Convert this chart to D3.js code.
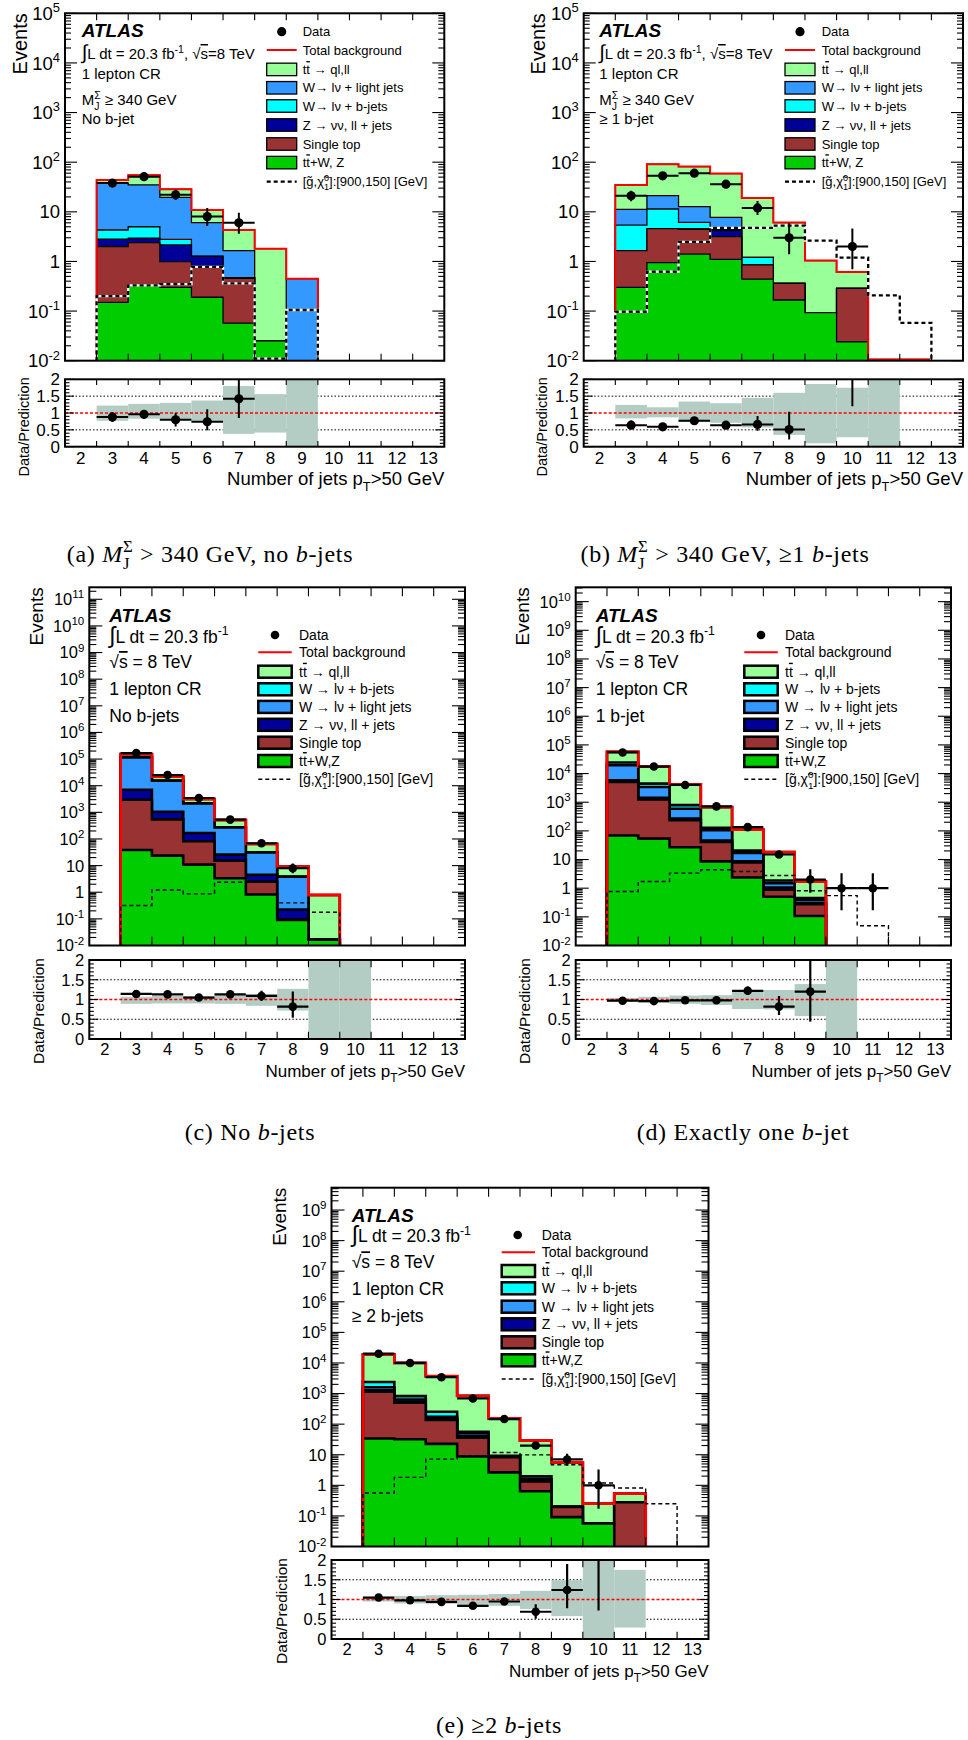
<!DOCTYPE html>
<html>
<head>
<meta charset="utf-8">
<script src="https://cdn.jsdelivr.net/npm/d3@7"></script>
<style>
  body { margin: 0; background: #fff; }
  svg { display: block; background: #fff; }
</style>
</head>
<body>
<svg id="fig" width="968" height="1740"></svg>
<script>
// ---------------------------------------------------------------
// Jet multiplicity bins (x = number of jets with pT > 50 GeV)
// ---------------------------------------------------------------
const nJets = [2, 3, 4, 5, 6, 7, 8, 9, 10, 11, 12, 13];
const jetTickLabels = ["2", "3", "4", "5", "6", "7", "8", "9", "10", "11", "12", "13"];
const ratioTickValues = [0, 0.5, 1, 1.5, 2];
const ratioTickLabels = ["0", "0.5", "1", "1.5", "2"];

// ---------------- (a) MJ >= 340 GeV, no b-jet ----------------
const aTtbar   = [0, 6.3, 19.7, 8.9, 4.84, 2.65, 1.785, 0, 0, 0, 0, 0];
const aWLight  = [0, 33.3, 29.8, 16.8, 4.79, 1.18, 0, 0.45, 0, 0, 0, 0];
const aWB      = [0, 1.5, 2.07, 0.64, 0.02, 0, 0, 0, 0, 0, 0, 0];
const aZjets   = [0, 0.8, 0.54, 1.16, 0.47, 0.013, 0, 0, 0, 0, 0, 0];
const aStop    = [0, 1.85, 2.06, 0.69, 0.60, 0.40, 0, 0, 0, 0, 0, 0];
const aTtV     = [0, 0.15, 0.33, 0.30, 0.19, 0.057, 0.025, 0, 0, 0, 0, 0];
const aData    = [0, 38, 51, 22, 8, 6, 0, 0, 0, 0, 0, 0];
const aDataUp  = [0, 7.2, 8.2, 5.7, 3.9, 3.6, 0, 0, 0, 0, 0, 0];
const aDataDn  = [0, 6.1, 7.1, 4.7, 2.8, 2.4, 0, 0, 0, 0, 0, 0];
const aSignal  = [0, 0.2, 0.33, 0.35, 0.78, 0.36, 0.011, 0.105, 0, 0, 0, 0];
const aRatio   = [null, 0.88, 0.96, 0.80, 0.74, 1.42, null, null, null, null, null, null];
const aRatioUp = [0, 0.15, 0.13, 0.20, 0.37, 0.90, 0, 0, 0, 0, 0, 0];
const aRatioDn = [0, 0.15, 0.12, 0.20, 0.25, 0.57, 0, 0, 0, 0, 0, 0];
const aBandLo  = [null, 0.77, 0.83, 0.79, 0.74, 0.38, 0.42, 0, null, null, null, null];
const aBandHi  = [null, 1.22, 1.27, 1.30, 1.37, 1.80, 1.56, 2, null, null, null, null];

// ---------------- (b) MJ >= 340 GeV, >= 1 b-jet ----------------
const bTtbar   = [0, 23.6, 69.6, 68.8, 51.1, 17.8, 5.7, 0.95, 0.323, 0.0106, 0.0106, 0];
const bWLight  = [0, 5.8, 9.8, 6.55, 3.36, 0, 0, 0, 0, 0, 0, 0];
const bWB      = [0, 3.75, 6.8, 1.55, 0.22, 0.36, 0, 0, 0, 0, 0, 0];
const bZjets   = [0, 0, 0, 0.16, 1.02, 0, 0, 0, 0, 0, 0, 0];
const bStop    = [0, 1.35, 3.65, 3.03, 2.06, 0.41, 0.195, 0, 0.263, 0, 0, 0];
const bTtV     = [0, 0.30, 0.95, 1.41, 1.10, 0.44, 0.167, 0.093, 0.024, 0, 0, 0];
const bData    = [0, 21, 53, 60, 36, 12, 3, 0, 2, 0, 0, 0];
const bDataUp  = [0, 5.6, 8.3, 8.8, 7.0, 4.5, 2.9, 0, 2.6, 0, 0, 0];
const bDataDn  = [0, 4.6, 7.3, 7.7, 6.0, 3.4, 1.6, 0, 1.3, 0, 0, 0];
const bSignal  = [0, 0.097, 0.62, 2.47, 4.73, 4.73, 5.27, 2.63, 1.19, 0.207, 0.058, 0];
const bRatio   = [null, 0.64, 0.59, 0.77, 0.64, 0.66, 0.51, null, 3.3, null, null, null];
const bRatioUp = [0, 0.14, 0.10, 0.10, 0.12, 0.25, 0.53, 0, 4.3, 0, 0, 0];
const bRatioDn = [0, 0.12, 0.09, 0.10, 0.11, 0.19, 0.30, 0, 2.1, 0, 0, 0];
const bBandLo  = [null, 0.84, 0.87, 0.74, 0.71, 0.57, 0.35, 0.10, 0.28, 0, null, null];
const bBandHi  = [null, 1.24, 1.17, 1.34, 1.29, 1.45, 1.60, 1.86, 1.75, 2, null, null];

// ---------------- (c) no b-jets ----------------
const cTtbar   = [0, 36600, 6050, 985, 242, 33.3, 5.3, 0.77, 0, 0, 0, 0];
const cWB      = [0, 2000, 300, 27, 4, 0.45, 0.05, 0, 0, 0, 0, 0];
const cWLight  = [0, 108400, 14340, 1980, 244, 26.7, 3.6, 0, 0, 0, 0, 0];
const cZjets   = [0, 4095, 513, 86.3, 10.5, 1.96, 0.132, 0, 0, 0, 0, 0];
const cStop    = [0, 2946, 522, 70.8, 12.05, 1.69, 0, 0, 0, 0, 0, 0];
const cTtV     = [0, 38.7, 23.7, 10.9, 3.35, 0.82, 0.092, 0.0164, 0, 0, 0, 0];
const cData    = [0, 168000, 25100, 3450, 531, 69, 8, 0, 0, 0, 0, 0];
const cDataUp  = [0, 410, 160, 60, 24, 9.3, 3.9, 0, 0, 0, 0, 0];
const cDataDn  = [0, 410, 158, 58, 23, 8.3, 2.8, 0, 0, 0, 0, 0];
const cSignal  = [0, 0.316, 1.22, 0.866, 2.37, 2.5, 0.398, 0.178, 0, 0, 0, 0];
const cRatio   = [null, 1.14, 1.13, 1.05, 1.13, 1.09, 0.82, null, null, null, null, null];
const cRatioUp = [0, 0.005, 0.01, 0.02, 0.05, 0.13, 0.38, 0, 0, 0, 0, 0];
const cRatioDn = [0, 0.005, 0.01, 0.02, 0.05, 0.13, 0.28, 0, 0, 0, 0, 0];
const cBandLo  = [null, 0.89, 0.90, 0.90, 0.89, 0.84, 0.72, 0, 0, null, null, null];
const cBandHi  = [null, 1.07, 1.09, 1.09, 1.14, 1.14, 1.27, 2, 2, null, null, null];

// ---------------- (d) exactly one b-jet ----------------
const dTtbar   = [0, 33200, 13140, 3430, 550, 90.6, 16.4, 1.26, 0, 0, 0, 0];
const dWB      = [0, 4700, 1056, 204, 21.5, 3.5, 0.36, 0.06, 0, 0, 0, 0];
const dWLight  = [0, 13760, 1966, 321, 59.7, 8.3, 0.45, 0.09, 0, 0, 0, 0];
const dZjets   = [0, 740, 181, 33, 4.7, 0.65, 0.176, 0.025, 0, 0, 0, 0];
const dStop    = [0, 5030, 1203, 210, 32.5, 5.58, 0.377, 0.168, 0, 0, 0, 0];
const dTtV     = [0, 68.6, 53.8, 26.7, 8.6, 2.37, 0.5, 0.107, 0, 0, 0, 0];
const dData    = [0, 54600, 17600, 4000, 714, 135, 15, 2, 1, 1, 0, 0];
const dDataUp  = [0, 234, 133, 64, 27.7, 12.6, 4.9, 2.6, 2.3, 2.3, 0, 0];
const dDataDn  = [0, 234, 132, 63, 26.7, 11.6, 3.8, 1.3, 0.83, 0.83, 0, 0];
const dSignal  = [0, 0.764, 1.71, 3.36, 4.4, 3.84, 2.78, 0.81, 0.55, 0.049, 0, 0];
const dRatio   = [null, 0.97, 0.96, 0.98, 0.98, 1.22, 0.82, 1.20, null, null, null, null];
const dRatioUp = [0, 0.005, 0.01, 0.02, 0.04, 0.11, 0.27, 0.85, 0, 0, 0, 0];
const dRatioDn = [0, 0.005, 0.01, 0.02, 0.04, 0.10, 0.21, 0.76, 0, 0, 0, 0];
const dBandLo  = [null, 0.94, 0.92, 0.89, 0.86, 0.76, 0.75, 0.58, 0, null, null, null];
const dBandHi  = [null, 1.04, 1.07, 1.10, 1.11, 1.24, 1.24, 1.39, 2, null, null, null];

// ---------------- (e) >= 2 b-jets ----------------
const eTtbar   = [0, 16700, 9176, 3425, 789, 145.8, 27.1, 5.4, 0.196, 0.256, 0, 0];
const eWB      = [0, 800, 182, 80, 5.7, 0.3, 0.36, 0, 0, 0, 0, 0];
const eWLight  = [0, 310, 89, 30, 9.3, 0.3, 0.15, 0, 0, 0, 0, 0];
const eZjets   = [0, 150, 53, 8, 4.6, 0.25, 0.1, 0, 0, 0, 0, 0];
const eStop    = [0, 1106, 468, 114, 27.6, 5.7, 0.71, 0.106, 0, 0.28, 0, 0];
const eTtV     = [0, 33.8, 32.1, 22.6, 8.77, 2.65, 0.64, 0.091, 0.0567, 0, 0, 0];
const eData    = [0, 20100, 10000, 3420, 692, 147, 20, 7, 1, 0, 0, 0];
const eDataUp  = [0, 142, 100, 59, 27, 13.1, 5.5, 3.8, 2.3, 0, 0, 0];
const eDataDn  = [0, 142, 100, 58, 26, 12.1, 4.4, 2.6, 0.83, 0, 0, 0];
const eSignal  = [0, 0.56, 1.82, 7.18, 9.0, 11.8, 9.9, 4.7, 1.19, 0.82, 0.25, 0];
const eRatio   = [null, 1.05, 0.98, 0.94, 0.84, 0.95, 0.69, 1.24, 3.95, null, null, null];
const eRatioUp = [0, 0.01, 0.01, 0.02, 0.04, 0.08, 0.19, 0.66, 3.0, 0, 0, 0];
const eRatioDn = [0, 0.01, 0.01, 0.02, 0.04, 0.08, 0.18, 0.46, 3.23, 0, 0, 0];
const eBandLo  = [null, 0.95, 0.90, 0.89, 0.86, 0.84, 0.76, 0.58, 0, 0.29, null, null];
const eBandHi  = [null, 1.07, 1.09, 1.11, 1.12, 1.14, 1.22, 1.49, 2, 1.75, null, null];

// ---------------------------------------------------------------
const FONT = '"Liberation Sans", Arial, Helvetica, "DejaVu Sans", sans-serif';
const SERIF = '"Liberation Serif", "Times New Roman", "DejaVu Serif", serif';
const COL = {
  ttbar: "#99ff99", wlight: "#3399ff", wb: "#00ffff", z: "#000099",
  stop: "#993333", ttv: "#00cc00", band: "#b3cdc5", total: "#ff0000"
};

const svg = d3.select("#fig");

// Text with sub/superscripts and stacked indices, built from tspans.
function rich(parent, x, y, parts, size, opts = {}) {
  const t = parent.append("text").attr("x", x).attr("y", y)
    .attr("font-size", size).attr("font-family", opts.family || FONT).attr("fill", "#000");
  if (opts.anchor) t.attr("text-anchor", opts.anchor);
  if (opts.weight) t.attr("font-weight", opts.weight);
  if (opts.style) t.attr("font-style", opts.style);
  if (opts.spacing) t.attr("letter-spacing", opts.spacing);
  if (opts.transform) t.attr("transform", opts.transform);
  const supOff = -0.42 * size, subOff = 0.3 * size, small = 0.7 * size;
  let cur = 0, pendDx = 0;
  parts.forEach(p0 => {
    const p = typeof p0 === "string" ? { t: p0 } : p0;
    if (p.stack) {
      const s1 = t.append("tspan").attr("font-size", small).attr("dy", supOff - cur).text(p.stack[0]);
      if (pendDx) s1.attr("dx", pendDx);
      const w1 = s1.node().getComputedTextLength();
      const s2 = t.append("tspan").attr("font-size", small).attr("dx", -w1)
        .attr("dy", subOff - supOff).text(p.stack[1]);
      const w2 = s2.node().getComputedTextLength();
      cur = subOff;
      pendDx = Math.max(0, w1 - w2);
      return;
    }
    const off = p.sup ? supOff : (p.sub ? subOff : 0);
    const s = t.append("tspan").attr("dy", off - cur).text(p.t);
    if (pendDx) s.attr("dx", pendDx);
    pendDx = 0;
    cur = off;
    if (p.sup || p.sub) s.attr("font-size", small);
    if (p.size) s.attr("font-size", p.size);
    if (p.italic) s.attr("font-style", "italic");
    if (p.over) s.style("text-decoration", "overline");
  });
  return t;
}

// Legend label pieces
const tbar = { t: "t", over: true };
const LAB = {
  ttbar: ["t", tbar, " \u2192 ql,ll"],
  wlightA: ["W\u2192 l\u03bd  + light jets"],
  wbA: ["W\u2192 l\u03bd  + b-jets"],
  wlight: ["W \u2192 l\u03bd + light jets"],
  wb: ["W \u2192 l\u03bd + b-jets"],
  z: ["Z \u2192 \u03bd\u03bd, ll + jets"],
  stop: ["Single top"],
  ttvA: ["t", tbar, "+W, Z"],
  ttv: ["t", tbar, "+W,Z"],
  signal: ["[g\u0303,\u03c7\u0303", { stack: ["0", "1"] }, "]:[900,150] [GeV]"]
};

const STYLE_TOP = {
  stackW: 1.3, redW: 2, sigW: 2.3, sigDash: "4,3", sigWhite: true, markerR: 4.6, errW: 2,
  frameW: 2, majY: 12, minY: 6, xTick: 7, rMaj: 9, rMin: 4.5,
  yLab: 18.5, rLab: 17, xTitle: 18.5, evSize: 20, dpSize: 14.5,
  legSize: 13, txtSize: 15, atlasSize: 19, boxH: 12.5, legBoxW: 1.3
};
const STYLE_LOW = {
  stackW: 2.6, redW: 2.8, sigW: 1.4, sigDash: "4,3", sigWhite: false, markerR: 4.3, errW: 2.2,
  frameW: 2, majY: 13, minY: 7, xTick: 9, rMaj: 9, rMin: 4.5,
  yLab: 16.5, rLab: 16.5, xTitle: 17, evSize: 19, dpSize: 15.5,
  legSize: 14, txtSize: 17.5, atlasSize: 19, boxH: 12, legBoxW: 2.5
};

function drawPanel(P) {
  const S = P.style;
  const g = svg.append("g");
  const x = d3.scaleLinear().domain([1.5, 13.5]).range([P.x0, P.x1]);
  const y = d3.scaleLog().domain([0.01, P.yTop]).range([P.y1, P.y0]);
  const yv = v => (v > 0.01 ? y(v) : P.y1 + 4);
  const yr = d3.scaleLinear().domain([0, 2]).range([P.r1, P.r0]);

  const defs = g.append("defs");
  defs.append("clipPath").attr("id", "clipMain" + P.id).append("rect")
    .attr("x", P.x0).attr("y", P.y0).attr("width", P.x1 - P.x0).attr("height", P.y1 - P.y0);
  defs.append("clipPath").attr("id", "clipRatio" + P.id).append("rect")
    .attr("x", P.x0).attr("y", P.r0).attr("width", P.x1 - P.x0).attr("height", P.r1 - P.r0);

  // ---- main pad: stacked backgrounds ----
  const main = g.append("g").attr("clip-path", `url(#clipMain${P.id})`);
  const line = d3.line().x(d => x(d[0])).y(d => yv(d[1]));
  const stepPts = vals => {
    const pts = [[1.5, 0]];
    vals.forEach((v, i) => { pts.push([nJets[i] - 0.5, v], [nJets[i] + 0.5, v]); });
    pts.push([13.5, 0]);
    return pts;
  };
  const cum = [];
  P.stack.forEach((c, k) => cum.push(c.values.map((v, i) => v + (k ? cum[k - 1][i] : 0))));
  for (let k = cum.length - 1; k >= 0; k--) {
    const d = line(stepPts(cum[k]));
    main.append("path").attr("d", d + "Z").attr("fill", P.stack[k].color).attr("stroke", "none");
    main.append("path").attr("d", d).attr("fill", "none")
      .attr("stroke", "#000").attr("stroke-width", S.stackW);
  }
  // total background
  main.append("path").attr("d", line(stepPts(cum[cum.length - 1])))
    .attr("fill", "none").attr("stroke", COL.total).attr("stroke-width", S.redW);
  // signal
  const sigD = line(stepPts(P.signal));
  if (S.sigWhite) {
    main.append("path").attr("d", sigD).attr("fill", "none")
      .attr("stroke", "#fff").attr("stroke-width", S.sigW);
  }
  main.append("path").attr("d", sigD).attr("fill", "none")
    .attr("stroke", "#000").attr("stroke-width", S.sigW).attr("stroke-dasharray", S.sigDash);
  // data
  P.data.forEach((v, i) => {
    if (!(v > 0)) return;
    const n = nJets[i];
    main.append("line").attr("x1", x(n - 0.5)).attr("x2", x(n + 0.5))
      .attr("y1", yv(v)).attr("y2", yv(v)).attr("stroke", "#000").attr("stroke-width", S.errW);
    main.append("line").attr("x1", x(n)).attr("x2", x(n))
      .attr("y1", yv(v + P.dataUp[i])).attr("y2", yv(v - P.dataDn[i]))
      .attr("stroke", "#000").attr("stroke-width", S.errW);
    main.append("circle").attr("cx", x(n)).attr("cy", yv(v)).attr("r", S.markerR).attr("fill", "#000");
  });

  // ---- ratio pad ----
  const rp = g.append("g").attr("clip-path", `url(#clipRatio${P.id})`);
  [0.5, 1.5].forEach(v => {
    rp.append("line").attr("x1", P.x0).attr("x2", P.x1).attr("y1", yr(v)).attr("y2", yr(v))
      .attr("stroke", "#000").attr("stroke-width", 1).attr("stroke-dasharray", "1.5,2");
  });
  P.bandLo.forEach((lo, i) => {
    if (lo === null) return;
    const n = nJets[i];
    rp.append("rect").attr("x", x(n - 0.5)).attr("width", x(n + 0.5) - x(n - 0.5))
      .attr("y", yr(P.bandHi[i])).attr("height", yr(lo) - yr(P.bandHi[i])).attr("fill", COL.band);
  });
  rp.append("line").attr("x1", P.x0).attr("x2", P.x1).attr("y1", yr(1)).attr("y2", yr(1))
    .attr("stroke", COL.total).attr("stroke-width", 1.4).attr("stroke-dasharray", "3,2");
  P.ratio.forEach((r, i) => {
    if (r === null) return;
    const n = nJets[i];
    rp.append("line").attr("x1", x(n - 0.5)).attr("x2", x(n + 0.5)).attr("y1", yr(r)).attr("y2", yr(r))
      .attr("stroke", "#000").attr("stroke-width", S.errW);
    rp.append("line").attr("x1", x(n)).attr("x2", x(n))
      .attr("y1", yr(r + P.ratioUp[i])).attr("y2", yr(r - P.ratioDn[i]))
      .attr("stroke", "#000").attr("stroke-width", S.errW);
    rp.append("circle").attr("cx", x(n)).attr("cy", yr(r)).attr("r", S.markerR).attr("fill", "#000");
  });

  // ---- axes, ticks and frames ----
  const ax = g.append("g").attr("stroke", "#000").attr("stroke-width", 1.1);
  const tick = (x1, y1, x2, y2) => ax.append("line").attr("x1", x1).attr("y1", y1).attr("x2", x2).attr("y2", y2);
  const topExp = Math.floor(Math.log10(P.yTop));
  d3.range(-2, topExp + 1).forEach(k => {
    const yy = y(Math.pow(10, k));
    tick(P.x0, yy, P.x0 + S.majY, yy);
    tick(P.x1, yy, P.x1 - S.majY, yy);
    d3.range(2, 10).forEach(m => {
      const v = m * Math.pow(10, k);
      if (v >= P.yTop) return;
      const ym = y(v);
      tick(P.x0, ym, P.x0 + S.minY, ym);
      tick(P.x1, ym, P.x1 - S.minY, ym);
    });
  });
  nJets.slice(0, 11).forEach(n => {
    const xx = x(n + 0.5);
    tick(xx, P.y1, xx, P.y1 - S.xTick);
    tick(xx, P.y0, xx, P.y0 + S.xTick);
    tick(xx, P.r1, xx, P.r1 - S.xTick * 0.8);
    tick(xx, P.r0, xx, P.r0 + S.xTick * 0.8);
  });
  d3.range(0, 21).forEach(j => {
    const v = j / 10;
    const len = (j % 5 === 0) ? S.rMaj : S.rMin;
    tick(P.x0, yr(v), P.x0 + len, yr(v));
    tick(P.x1, yr(v), P.x1 - len, yr(v));
  });
  g.append("rect").attr("x", P.x0).attr("y", P.y0).attr("width", P.x1 - P.x0).attr("height", P.y1 - P.y0)
    .attr("fill", "none").attr("stroke", "#000").attr("stroke-width", S.frameW);
  g.append("rect").attr("x", P.x0).attr("y", P.r0).attr("width", P.x1 - P.x0).attr("height", P.r1 - P.r0)
    .attr("fill", "none").attr("stroke", "#000").attr("stroke-width", S.frameW);

  // ---- tick labels ----
  d3.range(-2, topExp + 1).forEach(k => {
    const yy = y(Math.pow(10, k)) + 0.36 * S.yLab;
    const parts = k === 0 ? ["1"] : k === 1 ? ["10"] : ["10", { t: String(k), sup: true }];
    rich(g, P.x0 - 5, yy, parts, S.yLab, { anchor: "end" });
  });
  ratioTickValues.forEach((v, j) => {
    rich(g, P.x0 - 5, yr(v) + 0.36 * S.rLab, [ratioTickLabels[j]], S.rLab, { anchor: "end" });
  });
  nJets.forEach((n, j) => {
    rich(g, x(n), P.labY, [jetTickLabels[j]], S.rLab, { anchor: "middle" });
  });

  // ---- axis titles ----
  rich(g, 0, 0, ["Events"], S.evSize, { anchor: "end", transform: `translate(${P.evX},${P.y0}) rotate(-90)` });
  rich(g, 0, 0, ["Data/Prediction"], S.dpSize, { anchor: "end", transform: `translate(${P.dpX},${P.r0 - 2}) rotate(-90)` });
  rich(g, P.x1, P.xTitleY, ["Number of jets p", { t: "T", sub: true }, ">50 GeV"], S.xTitle, { anchor: "end" });

  // ---- labels inside the main pad ----
  rich(g, P.tx, P.textY[0], ["ATLAS"], S.atlasSize, { weight: "bold", style: "italic" });
  P.textLines.forEach((parts, j) => rich(g, P.tx, P.textY[j + 1], parts, S.txtSize));

  // ---- legend ----
  const L = P.legend;
  const lg = g.append("g");
  lg.append("circle").attr("cx", L.mx).attr("cy", L.ys[0]).attr("r", S.markerR).attr("fill", "#000");
  rich(lg, L.tx, L.ys[0] + 0.36 * S.legSize, ["Data"], S.legSize);
  lg.append("line").attr("x1", L.bx0).attr("x2", L.bx1).attr("y1", L.ys[1]).attr("y2", L.ys[1])
    .attr("stroke", COL.total).attr("stroke-width", 2);
  rich(lg, L.tx, L.ys[1] + 0.36 * S.legSize, ["Total background"], S.legSize);
  const entries = P.stack.slice().reverse();
  entries.forEach((c, j) => {
    const yy = L.ys[j + 2];
    lg.append("rect").attr("x", L.bx0).attr("y", yy - S.boxH / 2).attr("width", L.bx1 - L.bx0)
      .attr("height", S.boxH).attr("fill", c.color).attr("stroke", "#000").attr("stroke-width", S.legBoxW);
    rich(lg, L.tx, yy + 0.36 * S.legSize, c.label, S.legSize);
  });
  const ys = L.ys[8];
  lg.append("line").attr("x1", L.bx0).attr("x2", L.bx1).attr("y1", ys).attr("y2", ys)
    .attr("stroke", "#000").attr("stroke-width", S.sigWhite ? 2.3 : 1.4).attr("stroke-dasharray", "4,3");
  rich(lg, L.tx, ys + 0.36 * S.legSize, LAB.signal, S.legSize);

  // ---- caption ----
  rich(g, P.capX, P.capY, P.caption, 24, { anchor: "middle", family: SERIF, spacing: 0.7 });
}

const lumiLong = [{ t: "\u222b", size: 20 }, "L dt = 20.3 fb", { t: "-1", sup: true }, ", \u221a", { t: "s", over: true }, "=8 TeV"];
const lumiShort = [{ t: "\u222b", size: 23 }, "L dt = 20.3 fb", { t: "-1", sup: true }];
const sqrtS = ["\u221a", { t: "s", over: true }, " = 8 TeV"];
const mjCut = ["M", { stack: ["\u03a3", "J"] }, " \u2265 340 GeV"];

const stackTop = (tt, wl, wb, z, st, tv) => [
  { values: tv, color: COL.ttv, label: LAB.ttvA },
  { values: st, color: COL.stop, label: LAB.stop },
  { values: z, color: COL.z, label: LAB.z },
  { values: wb, color: COL.wb, label: LAB.wbA },
  { values: wl, color: COL.wlight, label: LAB.wlightA },
  { values: tt, color: COL.ttbar, label: LAB.ttbar }
];
const stackLow = (tt, wb, wl, z, st, tv) => [
  { values: tv, color: COL.ttv, label: LAB.ttv },
  { values: st, color: COL.stop, label: LAB.stop },
  { values: z, color: COL.z, label: LAB.z },
  { values: wl, color: COL.wlight, label: LAB.wlight },
  { values: wb, color: COL.wb, label: LAB.wb },
  { values: tt, color: COL.ttbar, label: LAB.ttbar }
];

const legTopYs = [31.7, 50, 69.4, 87.8, 106, 125, 144, 162.6, 181.6];
const legLowYs = [635, 652.3, 671.7, 689.3, 706.9, 724.8, 742.7, 761, 779.3];

drawPanel({
  id: "a", style: STYLE_TOP, x0: 65, x1: 444.3, y0: 13.3, y1: 360.7, yTop: 1e5, r0: 379.3, r1: 446.7,
  labY: 464, xTitleY: 485, evX: 27, dpX: 29,
  stack: stackTop(aTtbar, aWLight, aWB, aZjets, aStop, aTtV),
  data: aData, dataUp: aDataUp, dataDn: aDataDn, signal: aSignal,
  ratio: aRatio, ratioUp: aRatioUp, ratioDn: aRatioDn, bandLo: aBandLo, bandHi: aBandHi,
  tx: 81.7, textY: [36.7, 59, 79.3, 105, 124.3],
  textLines: [lumiLong, ["1 lepton CR"], mjCut, ["No b-jet"]],
  legend: { mx: 281.7, tx: 302.7, bx0: 266.7, bx1: 296.7, ys: legTopYs },
  capX: 210, capY: 562,
  caption: ["(a) ", { t: "M", italic: true }, { stack: ["\u03a3", "J"] }, " > 340 GeV, no ", { t: "b", italic: true }, "-jets"]
});

drawPanel({
  id: "b", style: STYLE_TOP, x0: 583.7, x1: 963, y0: 13.3, y1: 360.7, yTop: 1e5, r0: 379.3, r1: 446.7,
  labY: 464, xTitleY: 485, evX: 545, dpX: 546.5,
  stack: stackTop(bTtbar, bWLight, bWB, bZjets, bStop, bTtV),
  data: bData, dataUp: bDataUp, dataDn: bDataDn, signal: bSignal,
  ratio: bRatio, ratioUp: bRatioUp, ratioDn: bRatioDn, bandLo: bBandLo, bandHi: bBandHi,
  tx: 599.3, textY: [36.7, 59, 79.3, 105, 124.3],
  textLines: [lumiLong, ["1 lepton CR"], mjCut, ["\u2265 1 b-jet"]],
  legend: { mx: 800, tx: 821.7, bx0: 785, bx1: 815, ys: legTopYs },
  capX: 725, capY: 562,
  caption: ["(b) ", { t: "M", italic: true }, { stack: ["\u03a3", "J"] }, " > 340 GeV, \u22651 ", { t: "b", italic: true }, "-jets"]
});

drawPanel({
  id: "c", style: STYLE_LOW, x0: 89.3, x1: 465, y0: 587.3, y1: 945.5, yTop: Math.pow(10, 11.45), r0: 960, r1: 1039,
  labY: 1055, xTitleY: 1077.3, evX: 43.3, dpX: 44.3,
  stack: stackLow(cTtbar, cWB, cWLight, cZjets, cStop, cTtV),
  data: cData, dataUp: cDataUp, dataDn: cDataDn, signal: cSignal,
  ratio: cRatio, ratioUp: cRatioUp, ratioDn: cRatioDn, bandLo: cBandLo, bandHi: cBandHi,
  tx: 109.3, textY: [621.7, 642.7, 668, 695, 721.7],
  textLines: [lumiShort, sqrtS, ["1 lepton CR"], ["No b-jets"]],
  legend: { mx: 275, tx: 299, bx0: 258.3, bx1: 291.7, ys: legLowYs },
  capX: 250, capY: 1140,
  caption: ["(c) No ", { t: "b", italic: true }, "-jets"]
});

drawPanel({
  id: "d", style: STYLE_LOW, x0: 575.7, x1: 951, y0: 587.3, y1: 945.5, yTop: Math.pow(10, 10.5), r0: 960, r1: 1039,
  labY: 1055, xTitleY: 1077.3, evX: 529, dpX: 530,
  stack: stackLow(dTtbar, dWB, dWLight, dZjets, dStop, dTtV),
  data: dData, dataUp: dDataUp, dataDn: dDataDn, signal: dSignal,
  ratio: dRatio, ratioUp: dRatioUp, ratioDn: dRatioDn, bandLo: dBandLo, bandHi: dBandHi,
  tx: 595.7, textY: [621.7, 642.7, 668, 695, 721.7],
  textLines: [lumiShort, sqrtS, ["1 lepton CR"], ["1 b-jet"]],
  legend: { mx: 761, tx: 785, bx0: 744.3, bx1: 777.7, ys: legLowYs },
  capX: 743, capY: 1140,
  caption: ["(d) Exactly one ", { t: "b", italic: true }, "-jet"]
});

drawPanel({
  id: "e", style: STYLE_LOW, x0: 331.5, x1: 708.5, y0: 1187.7, y1: 1546.5, yTop: Math.pow(10, 9.73), r0: 1560, r1: 1639,
  labY: 1655, xTitleY: 1677.3, evX: 286, dpX: 286.7,
  stack: stackLow(eTtbar, eWB, eWLight, eZjets, eStop, eTtV),
  data: eData, dataUp: eDataUp, dataDn: eDataDn, signal: eSignal,
  ratio: eRatio, ratioUp: eRatioUp, ratioDn: eRatioDn, bandLo: eBandLo, bandHi: eBandHi,
  tx: 351.7, textY: [1221.7, 1242.3, 1268.3, 1295, 1321.7],
  textLines: [lumiShort, sqrtS, ["1 lepton CR"], ["\u2265 2 b-jets"]],
  legend: { mx: 517.7, tx: 541.7, bx0: 501.7, bx1: 535, ys: [1235, 1252.3, 1271, 1288.3, 1306.7, 1324.3, 1342.3, 1360.3, 1379] },
  capX: 499, capY: 1733,
  caption: ["(e) \u22652 ", { t: "b", italic: true }, "-jets"]
});
</script>
</body>
</html>
